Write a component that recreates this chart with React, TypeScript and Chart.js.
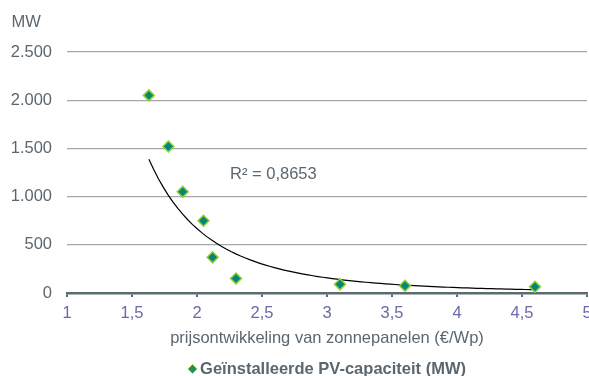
import React, { useEffect, useRef } from "react";
import { Chart, registerables } from "chart.js";

Chart.register(...registerables);

// ---- data ----
const priceEurPerWp = [1.63, 1.78, 1.89, 2.05, 2.12, 2.3, 3.1, 3.6, 4.6];
const installedMW = [2050, 1520, 1050, 750, 370, 150, 90, 75, 65];
const seriesLabel = "Geïnstalleerde PV-capaciteit (MW)";
const xAxisTitle = "prijsontwikkeling van zonnepanelen (€/Wp)";
const yAxisUnit = "MW";
const rSquaredLabel = "R² = 0,8653";
const xMin = 1, xMax = 5, xStep = 0.5;
const yMin = 0, yMax = 2500, yStep = 500;

const FONT = '"Liberation Sans", Arial, sans-serif';
const TEXT = "#5b6770";

function formatNL(v: number): string {
  const neg = v < 0;
  const a = Math.abs(v);
  const rounded = Math.round(a * 1000) / 1000;
  const [ip, dp] = String(rounded).split(".");
  const withDots = ip.replace(/\B(?=(\d{3})+(?!\d))/g, ".");
  return (neg ? "-" : "") + withDots + (dp ? "," + dp : "");
}

// power trendline (least squares on log-log), as Excel does
function powerFit(xs: number[], ys: number[]) {
  const lx = xs.map(Math.log), ly = ys.map(Math.log);
  const n = xs.length;
  const mx = lx.reduce((s, v) => s + v, 0) / n;
  const my = ly.reduce((s, v) => s + v, 0) / n;
  let sxy = 0, sxx = 0;
  for (let i = 0; i < n; i++) { sxy += (lx[i] - mx) * (ly[i] - my); sxx += (lx[i] - mx) ** 2; }
  const b = sxy / sxx;
  const a = Math.exp(my - b * mx);
  return { a, b };
}

const overlay = {
  id: "overlay",
  afterDraw(chart: any) {
    const ctx = chart.ctx;
    const area = chart.chartArea;
    ctx.save();
    ctx.fillStyle = TEXT;
    ctx.textBaseline = "alphabetic";
    ctx.textAlign = "left";
    ctx.font = `16.5px ${FONT}`;
    ctx.fillText(yAxisUnit, 11.5, 26.5);
    // R² label near the trendline
    ctx.fillText(rSquaredLabel, area.left + 163, area.top + 127);
    // legend
    ctx.font = `bold 16.5px ${FONT}`;
    const tw = ctx.measureText(seriesLabel).width;
    const cx = (area.left + area.right) / 2;
    const startX = cx - (tw + 12) / 2;
    const ly = 369;
    const s = 4.5;
    ctx.beginPath();
    ctx.moveTo(startX + 4.5, ly - s);
    ctx.lineTo(startX + 4.5 + s, ly);
    ctx.lineTo(startX + 4.5, ly + s);
    ctx.lineTo(startX + 4.5 - s, ly);
    ctx.closePath();
    ctx.fillStyle = "#1f9060";
    ctx.fill();
    ctx.strokeStyle = "#9acd32";
    ctx.lineWidth = 1;
    ctx.stroke();
    ctx.fillStyle = TEXT;
    ctx.fillText(seriesLabel, startX + 12, 374);
    ctx.restore();
  },
};

export default function App() {
  const ref = useRef<HTMLCanvasElement | null>(null);
  useEffect(() => {
    if (!ref.current) return;
    const { a, b } = powerFit(priceEurPerWp, installedMW);
    const lo = Math.min(...priceEurPerWp), hi = Math.max(...priceEurPerWp);
    const trend: { x: number; y: number }[] = [];
    const N = 80;
    for (let i = 0; i <= N; i++) {
      const x = lo + ((hi - lo) * i) / N;
      trend.push({ x, y: a * Math.pow(x, b) });
    }
    const chart = new Chart(ref.current, {
      type: "scatter",
      data: {
        datasets: [
          {
            label: seriesLabel,
            data: priceEurPerWp.map((x, i) => ({ x, y: installedMW[i] })),
            pointStyle: "rectRot",
            pointRadius: 5.5,
            pointBackgroundColor: "#00897b",
            pointBorderColor: "#9acd32",
            pointBorderWidth: 1.5,
            showLine: false,
            clip: false,
          },
          {
            label: "trend",
            data: trend,
            showLine: true,
            pointRadius: 0,
            borderColor: "#000000",
            borderWidth: 1.2,
            tension: 0,
          },
        ],
      },
      options: {
        animation: false,
        responsive: false,
        maintainAspectRatio: false,
        layout: { autoPadding: false, padding: { top: 52, right: 2, left: 0, bottom: 0 } },
        plugins: { legend: { display: false }, tooltip: { enabled: false }, title: { display: false } },
        scales: {
          x: {
            type: "linear",
            min: xMin,
            max: xMax,
            ticks: {
              stepSize: xStep,
              color: "#6a6aa8",
              font: { family: FONT, size: 16.5 },
              padding: 7,
              callback: (v: any) => formatNL(Number(v)),
            },
            grid: { drawOnChartArea: false, drawTicks: true, tickLength: 4, color: "#5b6b72", lineWidth: 2 },
            border: { display: true, color: "#5b6b72", width: 2.5 },
            title: {
              display: true,
              text: xAxisTitle,
              color: TEXT,
              font: { family: FONT, size: 16.5 },
              padding: { top: 0, bottom: 28 },
            },
            afterFit: (scale: any) => {
              scale.height = 376 - 293;
              scale.paddingLeft = 0;
              scale.paddingRight = 0;
            },
          },
          y: {
            type: "linear",
            min: yMin,
            max: yMax,
            ticks: {
              stepSize: yStep,
              color: TEXT,
              font: { family: FONT, size: 16.5 },
              padding: 15,
              callback: (v: any) => formatNL(Number(v)),
            },
            grid: { drawTicks: false, color: "#a6a6a6", lineWidth: 1.2 },
            border: { display: false },
            afterFit: (scale: any) => {
              scale.width = 67;
            },
          },
        },
      },
      plugins: [overlay],
    } as any);
    return () => chart.destroy();
  }, []);
  return (
    <div style={{ position: "fixed", left: 0, top: 0, width: 589, height: 376, background: "#fff" }}>
      <canvas ref={ref} width={589} height={376} style={{ width: 589, height: 376, display: "block" }} />
    </div>
  );
}
